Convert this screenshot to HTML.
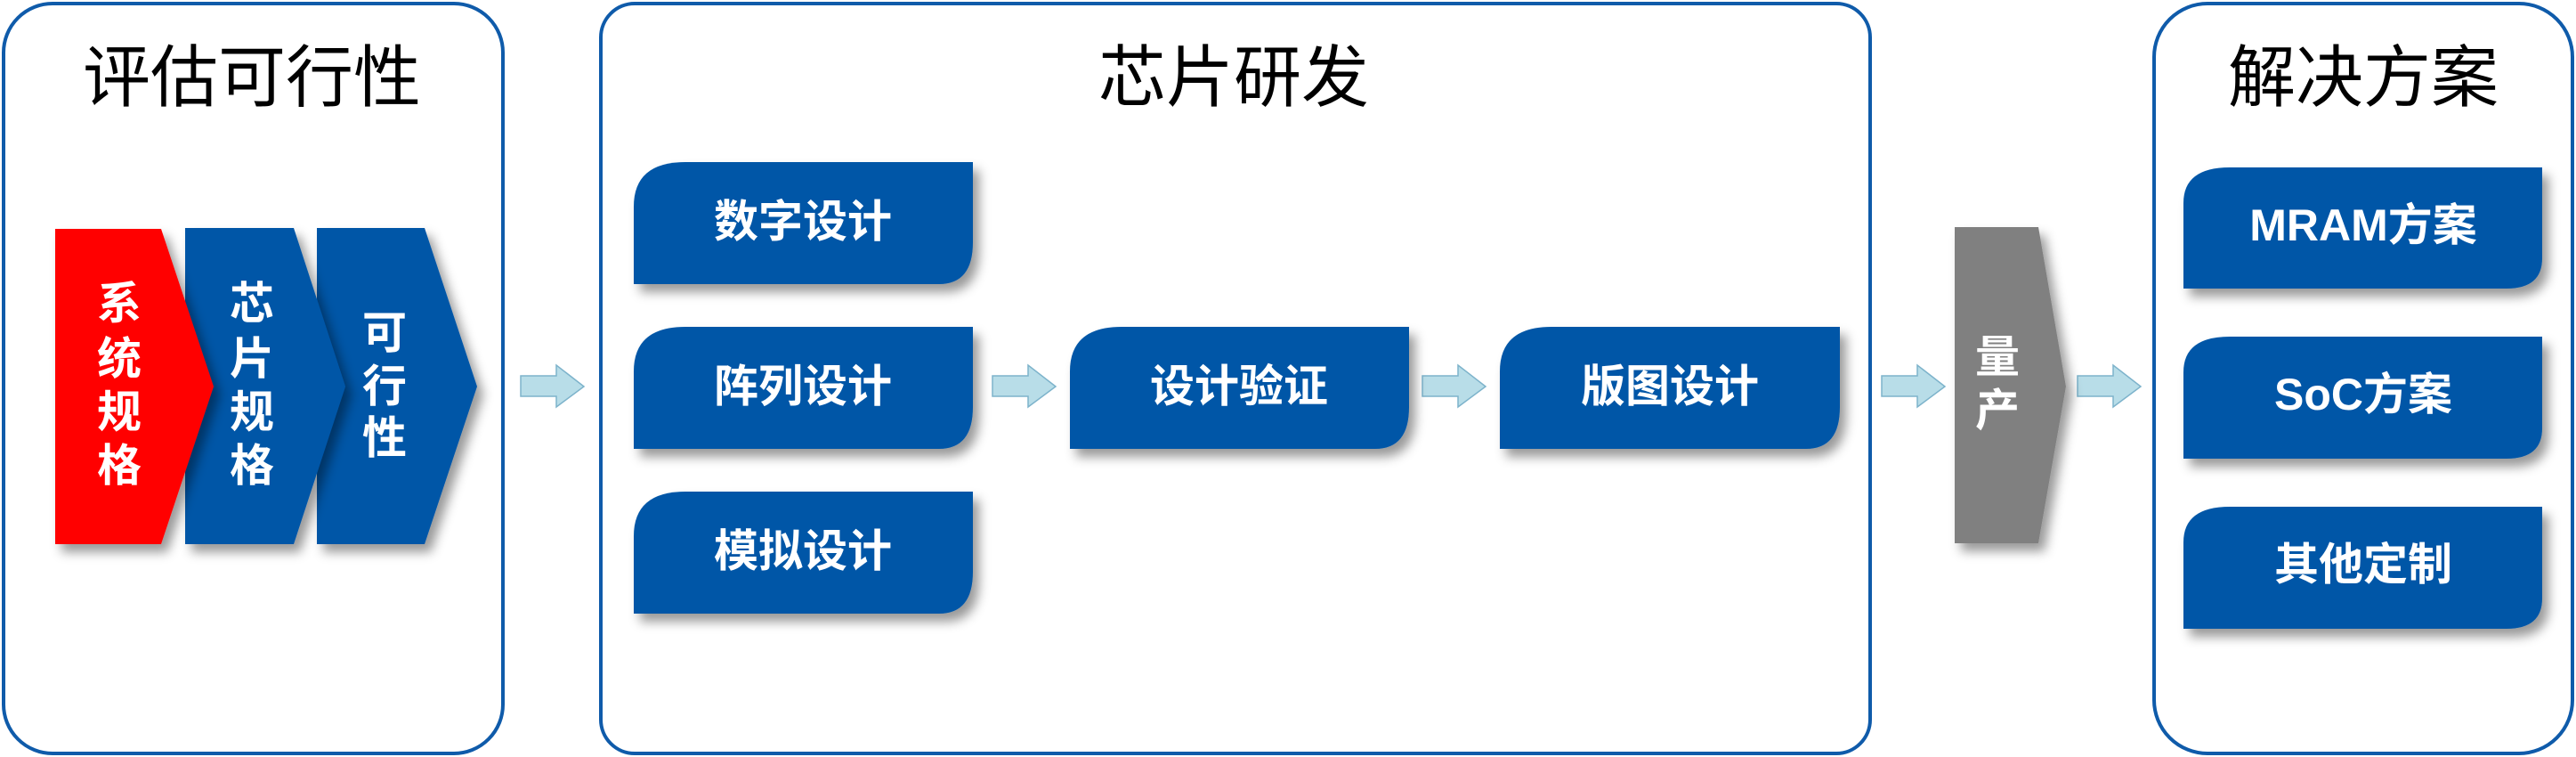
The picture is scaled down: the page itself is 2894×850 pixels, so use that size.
<!DOCTYPE html>
<html><head><meta charset="utf-8"><style>
html,body{margin:0;padding:0;background:#fff;}
svg{display:block;}
text{font-family:"Liberation Sans","Noto Sans CJK SC",sans-serif;}
.t{font-size:76px;fill:#000;text-anchor:middle;dominant-baseline:central;}
.w{font-size:50px;font-weight:bold;fill:#fff;text-anchor:middle;dominant-baseline:central;}
</style></head><body>
<svg width="2894" height="850" viewBox="0 0 2894 850" xmlns="http://www.w3.org/2000/svg">
<defs>
<filter id="sh" x="-10%" y="-10%" width="130%" height="130%">
<feDropShadow dx="7" dy="9" stdDeviation="6" flood-color="#000" flood-opacity="0.4"/>
</filter>
<g id="arr"><path d="M0 12 H40 V0 L71 24 L40 47 V35 H0 Z" fill="#B8DDE8" stroke="#7DB3CB" stroke-width="1.5"/></g>
</defs>
<!-- panels -->
<rect x="4" y="4" width="561" height="842" rx="55" fill="#fff" stroke="#0F5BAA" stroke-width="4"/>
<rect x="675" y="4" width="1426" height="842" rx="38" fill="#fff" stroke="#0F5BAA" stroke-width="4"/>
<rect x="2420" y="4" width="470" height="842" rx="60" fill="#fff" stroke="#0F5BAA" stroke-width="4"/>
<text class="t" x="283" y="88">评估可行性</text>
<text class="t" x="1386" y="88">芯片研发</text>
<text class="t" x="2655" y="88">解决方案</text>
<!-- chevrons (draw right-to-left so earlier overlaps) -->
<g filter="url(#sh)">
<path d="M356 256 H477 L536 434 L477 611 H356 Z" fill="#0457A7"/>
</g>
<g filter="url(#sh)">
<path d="M208 256 H330 L388 434 L330 611 H208 Z" fill="#0457A7"/>
</g>
<g filter="url(#sh)">
<path d="M62 257 H181 L240 434 L181 611 H62 Z" fill="#FF0000"/>
</g>
<text class="w" x="134" y="341">系</text>
<text class="w" x="134" y="403">统</text>
<text class="w" x="134" y="463">规</text>
<text class="w" x="134" y="523">格</text>
<text class="w" x="283" y="341">芯</text>
<text class="w" x="283" y="403">片</text>
<text class="w" x="283" y="463">规</text>
<text class="w" x="283" y="523">格</text>
<text class="w" x="432" y="374">可</text>
<text class="w" x="432" y="434">行</text>
<text class="w" x="432" y="492">性</text>
<!-- arrows -->
<use href="#arr" x="585" y="410"/>
<use href="#arr" x="1115" y="410"/>
<use href="#arr" x="1598" y="410"/>
<use href="#arr" x="2114" y="410"/>
<use href="#arr" x="2334" y="410"/>
<!-- middle boxes -->
<g filter="url(#sh)" fill="#0457A7">
<path d="M712 232 Q712 182 770 182 H1093 V272 Q1093 319 1055 319 H712 Z"/>
<path d="M712 417 Q712 367 770 367 H1093 V457 Q1093 504 1055 504 H712 Z"/>
<path d="M712 602 Q712 552 770 552 H1093 V642 Q1093 689 1055 689 H712 Z"/>
<path d="M1202 417 Q1202 367 1260 367 H1583 V457 Q1583 504 1545 504 H1202 Z"/>
<path d="M1685 417 Q1685 367 1743 367 H2067 V457 Q2067 504 2029 504 H1685 Z"/>
</g>
<text class="w" x="902" y="249">数字设计</text>
<text class="w" x="902" y="434">阵列设计</text>
<text class="w" x="902" y="619">模拟设计</text>
<text class="w" x="1392" y="434">设计验证</text>
<text class="w" x="1876" y="434">版图设计</text>
<!-- gray -->
<g filter="url(#sh)">
<path d="M2196 255 H2290 L2321 434 L2290 610 H2196 Z" fill="#808080"/>
</g>
<text class="w" x="2244" y="401">量</text>
<text class="w" x="2244" y="461">产</text>
<!-- right boxes -->
<g filter="url(#sh)" fill="#0457A7">
<path d="M2453 228 Q2453 188 2505 188 H2856 V290 Q2856 324 2816 324 H2453 Z"/>
<path d="M2453 418 Q2453 378 2505 378 H2856 V481 Q2856 515 2816 515 H2453 Z"/>
<path d="M2453 609 Q2453 569 2505 569 H2856 V672 Q2856 706 2816 706 H2453 Z"/>
</g>
<text class="w" x="2655" y="253">MRAM方案</text>
<text class="w" x="2655" y="443">SoC方案</text>
<text class="w" x="2655" y="634">其他定制</text>
</svg>
</body></html>
